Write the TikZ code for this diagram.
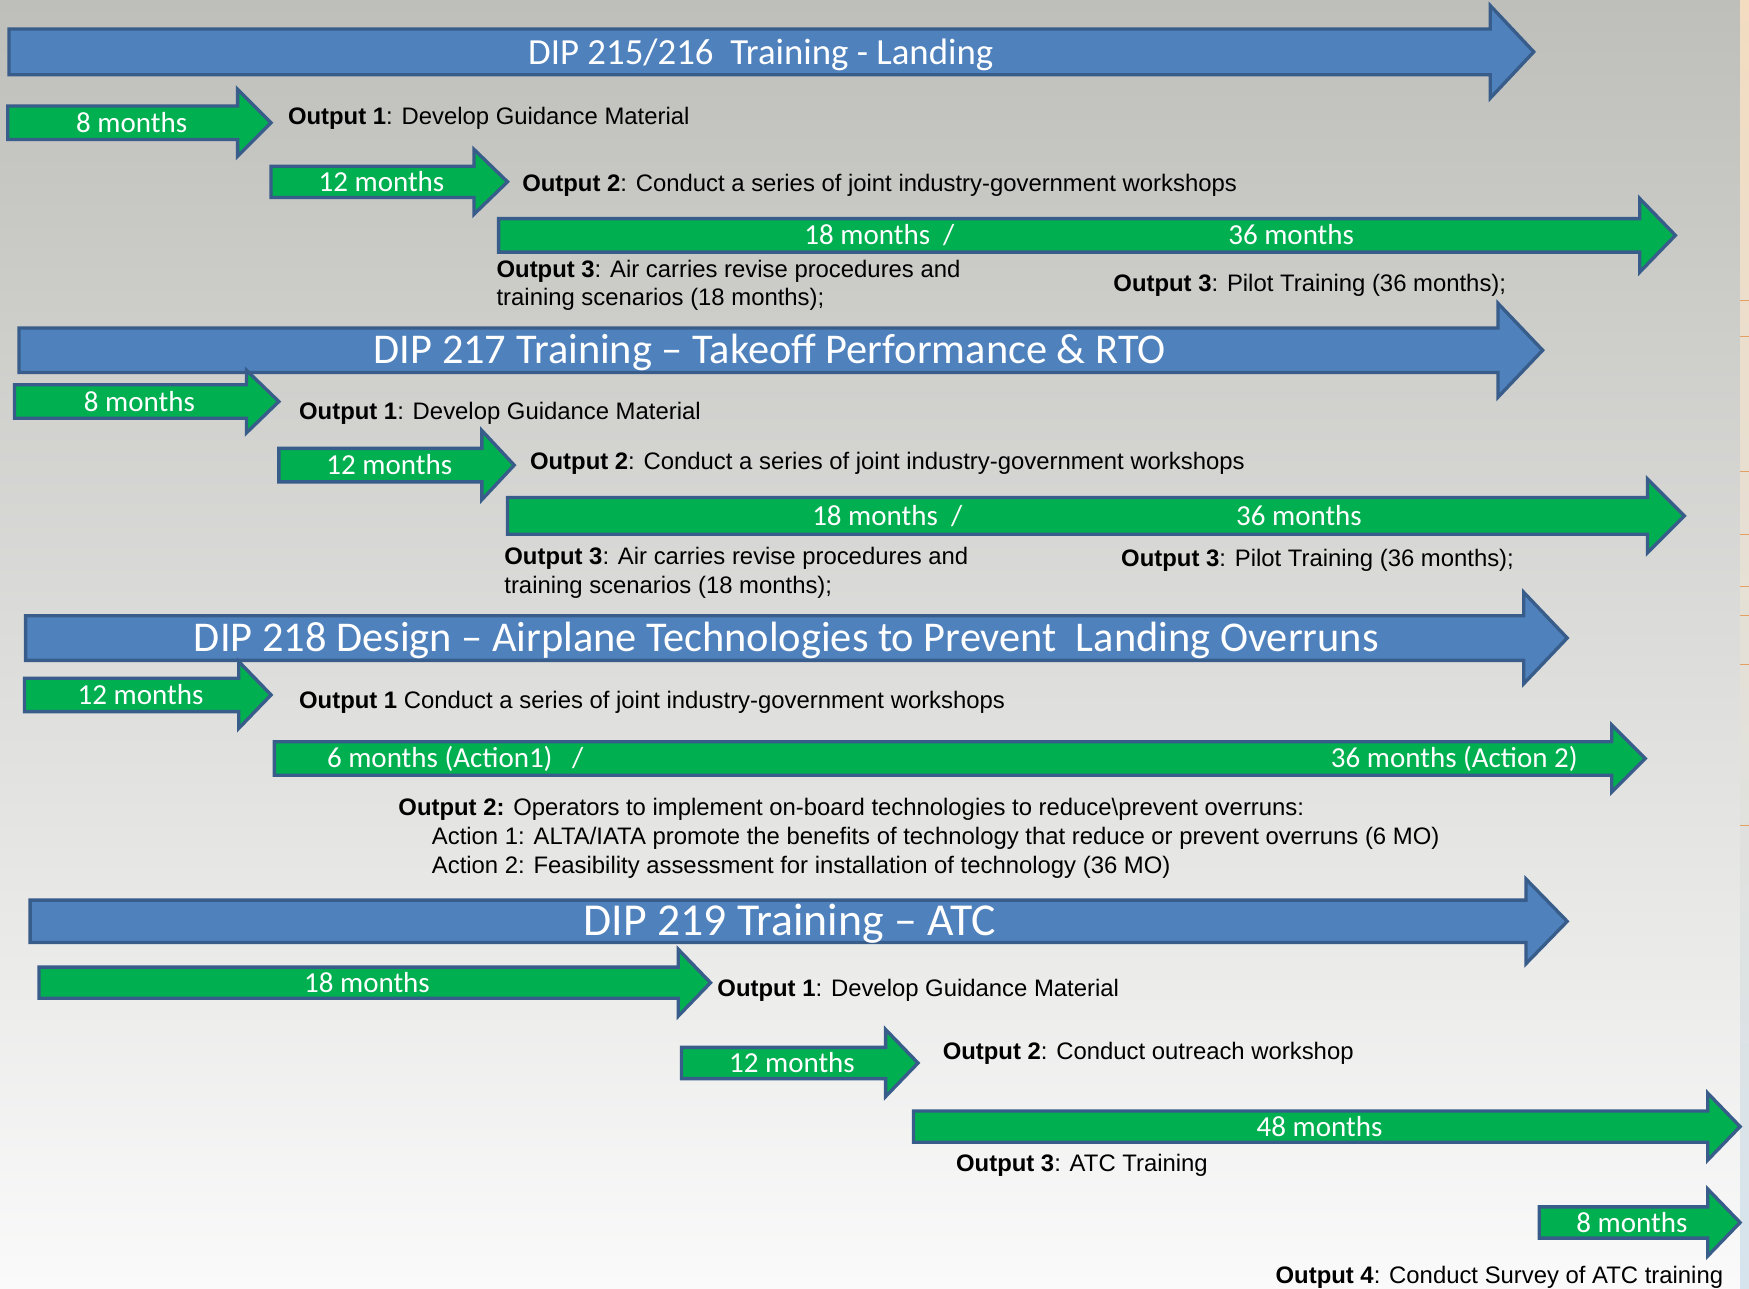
\documentclass[tikz,border=0pt]{standalone}
\usepackage{fontspec}
\setmainfont{Liberation Sans}
\newfontfamily\calfont[Ligatures=TeX]{Carlito}
\definecolor{bgtop}{RGB}{190,190,186}
\definecolor{bgmid}{RGB}{236,236,235}
\definecolor{bgbot}{RGB}{250,250,250}
\definecolor{ablue}{RGB}{79,129,189}
\definecolor{aline}{RGB}{56,93,138}
\definecolor{agreen}{RGB}{0,176,80}
\definecolor{stripA}{RGB}{243,220,192}
\definecolor{stripB}{RGB}{249,242,228}
\definecolor{stripC}{RGB}{214,228,238}
\definecolor{stripline}{RGB}{226,160,100}
\newcommand{\myarrow}[7]{%
  \draw[#1] (#2,#5-#6) -- (#3,#5-#6) -- (#3,#5-#7) -- (#4,#5) -- (#3,#5+#7) -- (#3,#5+#6) -- (#2,#5+#6) -- cycle;}
\tikzset{
  bluearrow/.style={fill=ablue, draw=aline, line width=3pt, line join=miter},
  greenarrow/.style={fill=agreen, draw=aline, line width=3pt, line join=miter},
  titletxt/.style={inner sep=0pt, text=white, font=\calfont\fontsize{38}{40}\selectfont, anchor=base},
  durtxt/.style={inner sep=0pt, text=white, font=\calfont\fontsize{26}{28}\selectfont, anchor=base},
  bodytxt/.style={inner sep=0pt, text=black, font=\fontsize{21.4}{25}\selectfont, anchor=base west, align=left},
}
\begin{document}
\begin{tikzpicture}[x=1pt,y=-1pt]
\useasboundingbox (0,0) rectangle (1568,1155);
\shade[top color=bgtop, middle color=bgmid, bottom color=bgbot] (0,0) rectangle (1568,1155);
\shade[top color=stripA, middle color=stripB, bottom color=stripC] (1560,0) rectangle (1568,1155);
\foreach \yy in {269,302,423,479,526,552,596,740}
  \draw[stripline, line width=0.8pt] (1560,\yy) -- (1568,\yy);

% ---------- DIP 215/216 ----------
\myarrow{bluearrow}{8}{1336}{1375}{46.5}{20.5}{41.5}
\node[titletxt, font=\calfont\fontsize{33}{36}\selectfont] (t1) at (682,57.5) {DIP 215/216\ \ Training - Landing};
\myarrow{greenarrow}{7}{213}{243}{110}{15}{30}
\node[durtxt] (a1m8) at (118,118.5) {8 months};
\node[bodytxt] (a1o1) at (258,111.5) {\textbf{Output 1}: Develop Guidance Material};
\myarrow{greenarrow}{243}{425}{455}{163}{14}{29}
\node[durtxt] (a1m12) at (342,171.5) {12 months};
\node[bodytxt] (a1o2) at (468,171.5) {\textbf{Output 2}: Conduct a series of joint industry-government workshops};
\myarrow{greenarrow}{447}{1470}{1502}{211}{15}{33}
\node[durtxt, anchor=base west] (a1m18) at (721,219.5) {18 months\ \ /};
\node[durtxt, anchor=base west] (a1m36) at (1101,219.5) {36 months};
\node[bodytxt] (a1o3a) at (445,248.5) {\textbf{Output 3}: Air carries revise procedures and};
\node[bodytxt] (a1o3b) at (445,273.5) {training scenarios (18 months);};
\node[bodytxt] (a1o3c) at (998,261.5) {\textbf{Output 3}: Pilot Training (36 months);};

% ---------- DIP 217 ----------
\myarrow{bluearrow}{17}{1343}{1383}{314}{20}{42}
\node[titletxt] (t2) at (690,326) {DIP 217 Training \textendash{} Takeoff Performance \& RTO};
\myarrow{greenarrow}{13}{221}{250}{360}{15}{28}
\node[durtxt] (b1m8) at (125,368.5) {8 months};
\node[bodytxt] (b1o1) at (268,376.5) {\textbf{Output 1}: Develop Guidance Material};
\myarrow{greenarrow}{250}{432}{461}{417}{15}{31}
\node[durtxt] (b1m12) at (349,425.5) {12 months};
\node[bodytxt] (b1o2) at (475,420.5) {\textbf{Output 2}: Conduct a series of joint industry-government workshops};
\myarrow{greenarrow}{455}{1477}{1510}{462.5}{16.5}{33}
\node[durtxt, anchor=base west] (b1m18) at (728,471) {18 months\ \ /};
\node[durtxt, anchor=base west] (b1m36) at (1108,471) {36 months};
\node[bodytxt] (b1o3a) at (452,506.5) {\textbf{Output 3}: Air carries revise procedures and};
\node[bodytxt] (b1o3b) at (452,532.5) {training scenarios (18 months);};
\node[bodytxt] (b1o3c) at (1005,507.5) {\textbf{Output 3}: Pilot Training (36 months);};

% ---------- DIP 218 ----------
\myarrow{bluearrow}{23}{1366}{1405}{572}{20}{41}
\node[titletxt] (t3) at (705,584) {DIP 218 Design \textendash{} Airplane Technologies to Prevent\ \ Landing Overruns};
\myarrow{greenarrow}{22}{214}{243}{623}{15}{30}
\node[durtxt] (c1m12) at (126,631.5) {12 months};
\node[bodytxt] (c1o1) at (268,635.5) {\textbf{Output 1} Conduct a series of joint industry-government workshops};
\myarrow{greenarrow}{246}{1445}{1475}{680}{15}{30}
\node[durtxt, anchor=base west] (c1m6) at (293,688.5) {6 months (Action1)\ \ \ /};
\node[durtxt, anchor=base west] (c1m36) at (1193,688.5) {36 months (Action 2)};
\node[bodytxt] (c1o2) at (357,731.5) {\textbf{Output 2:} Operators to implement on-board technologies to reduce\textbackslash prevent overruns:};
\node[bodytxt] (c1a1) at (387,757.5) {Action 1: ALTA/IATA promote the benefits of technology that reduce or prevent overruns (6 MO)};
\node[bodytxt] (c1a2) at (387,783.5) {Action 2: Feasibility assessment for installation of technology (36 MO)};

% ---------- DIP 219 ----------
\myarrow{bluearrow}{27}{1368}{1405}{826}{19}{38}
\node[titletxt, font=\calfont\fontsize{41}{44}\selectfont] (t4) at (708,838.5) {DIP 219 Training \textendash{} ATC};
\myarrow{greenarrow}{35}{608}{637}{881}{14}{30}
\node[durtxt] (d1m18) at (329,889.5) {18 months};
\node[bodytxt] (d1o1) at (643,893.5) {\textbf{Output 1}: Develop Guidance Material};
\myarrow{greenarrow}{611}{794}{823}{953}{14}{30}
\node[durtxt] (d1m12) at (710,961.5) {12 months};
\node[bodytxt] (d1o2) at (845,949.5) {\textbf{Output 2}: Conduct outreach workshop};
\myarrow{greenarrow}{819}{1531}{1560}{1010}{14}{30}
\node[durtxt] (d1m48) at (1183,1018.5) {48 months};
\node[bodytxt] (d1o3) at (857,1050.5) {\textbf{Output 3}: ATC Training};
\myarrow{greenarrow}{1380}{1531}{1560}{1096}{14}{30}
\node[durtxt] (d1m8) at (1463,1104.5) {8 months};
\node[bodytxt, anchor=base east] (d1o4) at (1545,1150.5) {\textbf{Output 4}: Conduct Survey of ATC training};
\end{tikzpicture}
\end{document}
